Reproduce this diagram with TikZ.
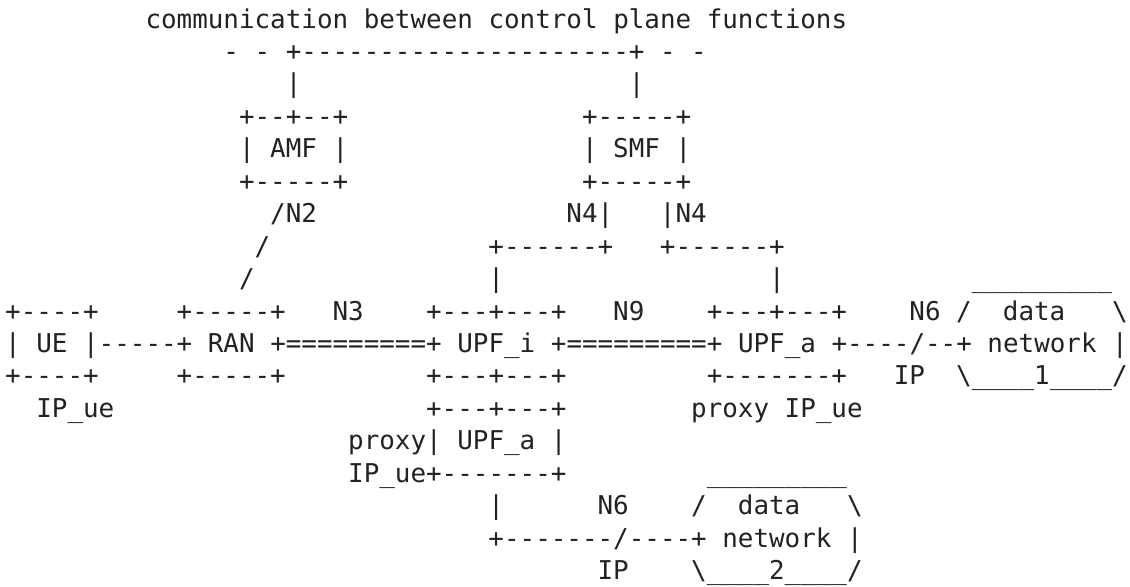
\documentclass[tikz,border=0pt]{standalone}
\usepackage{fontspec}
\setmonofont{DejaVu Sans Mono}
\usepackage{xcolor}
\definecolor{asciiink}{RGB}{34,34,34}

\begin{document}
\begin{tikzpicture}[x=7.795pt, y=-16.225pt,
    txt/.style={anchor=base west, inner sep=0pt, outer sep=0pt, text=asciiink,
      font=\ttfamily\fontsize{12.95}{16}\selectfont}]
  \useasboundingbox (-2.6pt,14pt) rectangle (562.4pt,-279pt);

  % control plane
  \node[txt] (title) at (9,0) {communication between control plane functions};
  \node[txt] (bus) at (14,1) {- - +---------------------+ - -};
  \node[txt] (busAMF) at (18,2) {|};
  \node[txt] (busSMF) at (40,2) {|};

  \node[txt] (amfTop) at (15,3) {+--+--+};
  \node[txt] (amfMid) at (15,4) {| AMF |};
  \node[txt] (amfBot) at (15,5) {+-----+};

  \node[txt] (smfTop) at (37,3) {+-----+};
  \node[txt] (smfMid) at (37,4) {| SMF |};
  \node[txt] (smfBot) at (37,5) {+-----+};

  % N2 / N4
  \node[txt] (nTwo) at (17,6) {/N2};
  \node[txt] (nFourL) at (36,6) {N4|};
  \node[txt] (nFourR) at (42,6) {|N4};
  \node[txt] (slashA) at (16,7) {/};
  \node[txt] (nFourLbar) at (31,7) {+------+};
  \node[txt] (nFourRbar) at (42,7) {+------+};
  \node[txt] (slashB) at (15,8) {/};
  \node[txt] (upfiUp) at (31,8) {|};
  \node[txt] (upfaUp) at (49,8) {|};
  \node[txt] (dnOneTop) at (62,8) {\_\_\_\_\_\_\_\_\_};

  % user plane
  \node[txt] (ueTop) at (0,9) {+----+};
  \node[txt] (ranTop) at (11,9) {+-----+};
  \node[txt] (nThree) at (21,9) {N3};
  \node[txt] (upfiTop) at (27,9) {+---+---+};
  \node[txt] (nNine) at (39,9) {N9};
  \node[txt] (upfaTop) at (45,9) {+---+---+};
  \node[txt] (nSixA) at (58,9) {N6};
  \node[txt] (dnOneUL) at (61,9) {/};
  \node[txt] (dnOneData) at (64,9) {data};
  \node[txt] (dnOneUR) at (71,9) {\textbackslash};

  \node[txt] (mainLine) at (0,10) {| UE |-----+ RAN +=========+ UPF\_i +=========+ UPF\_a +----/--+ network |};

  \node[txt] (ueBot) at (0,11) {+----+};
  \node[txt] (ranBot) at (11,11) {+-----+};
  \node[txt] (upfiBot) at (27,11) {+---+---+};
  \node[txt] (upfaBot) at (45,11) {+-------+};
  \node[txt] (ipA) at (57,11) {IP};
  \node[txt] (dnOneBot) at (61,11) {\textbackslash\_\_\_\_1\_\_\_\_/};

  % UPF_a below UPF_i
  \node[txt] (ipUe) at (2,12) {IP\_ue};
  \node[txt] (upfbTop) at (27,12) {+---+---+};
  \node[txt] (proxyA) at (44,12) {proxy IP\_ue};
  \node[txt] (upfbMid) at (22,13) {proxy| UPF\_a |};
  \node[txt] (upfbBot) at (22,14) {IP\_ue+-------+};
  \node[txt] (dnTwoTop) at (45,14) {\_\_\_\_\_\_\_\_\_};
  \node[txt] (upfbDown) at (31,15) {|};
  \node[txt] (nSixB) at (38,15) {N6};
  \node[txt] (dnTwoUL) at (44,15) {/};
  \node[txt] (dnTwoData) at (47,15) {data};
  \node[txt] (dnTwoUR) at (54,15) {\textbackslash};
  \node[txt] (nSixLine) at (31,16) {+-------/----+ network |};
  \node[txt] (ipB) at (38,17) {IP};
  \node[txt] (dnTwoBot) at (44,17) {\textbackslash\_\_\_\_2\_\_\_\_/};
\end{tikzpicture}
\end{document}
